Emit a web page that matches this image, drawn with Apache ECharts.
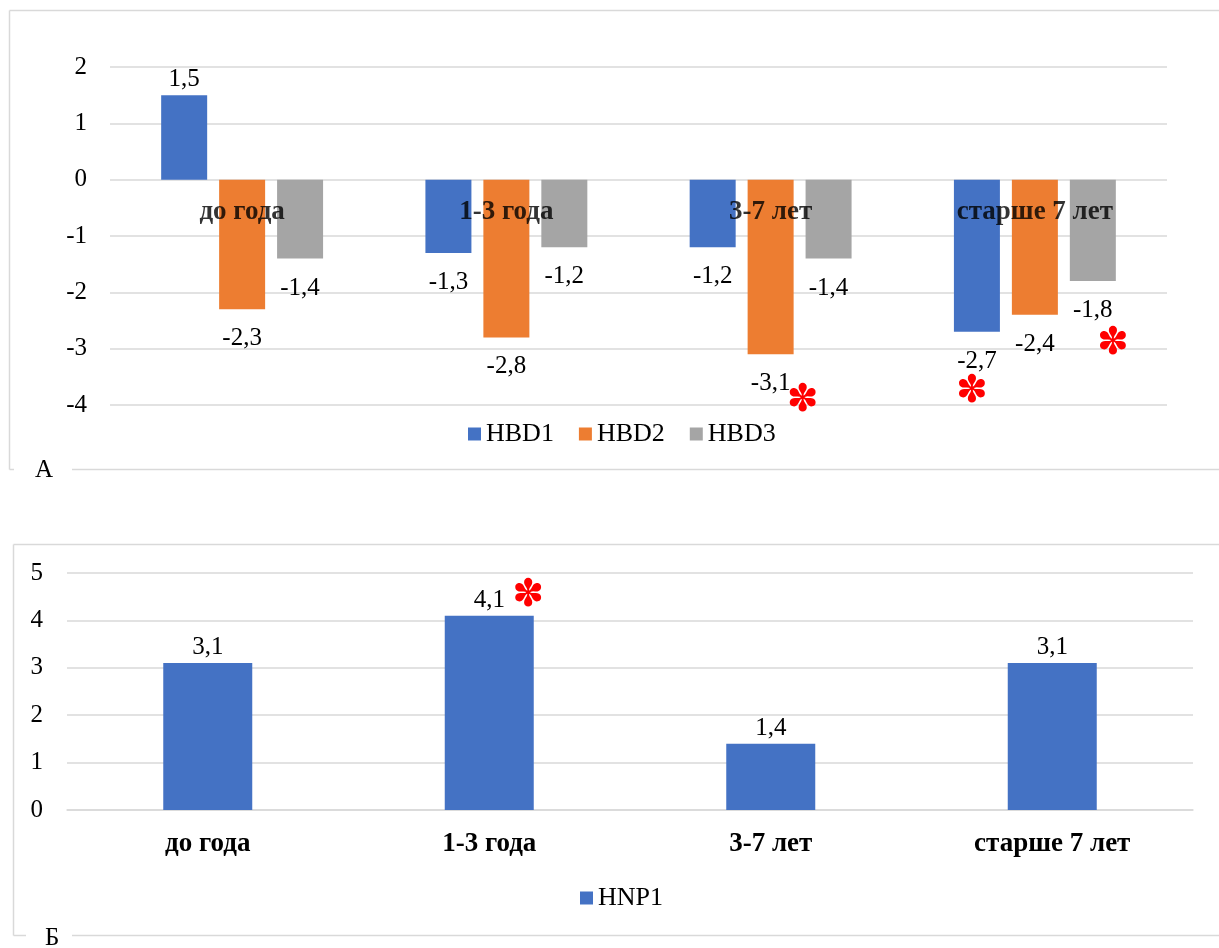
<!DOCTYPE html>
<html>
<head>
<meta charset="utf-8">
<script src="https://cdn.jsdelivr.net/npm/echarts@6/dist/echarts.min.js"></script>
<style>
html,body{margin:0;padding:0;background:#fff;}
#c{width:1219px;height:948px;}
</style>
</head>
<body>
<div id="c"></div>
<script>
var categories = ['до года', '1-3 года', '3-7 лет', 'старше 7 лет'];
var hbd1 = [1.5, -1.3, -1.2, -2.7];
var hbd2 = [-2.3, -2.8, -3.1, -2.4];
var hbd3 = [-1.4, -1.2, -1.4, -1.8];
var hnp1 = [3.1, 4.1, 1.4, 3.1];
var topTicks = [-4, -3, -2, -1, 0, 1, 2];
var bottomTicks = [0, 1, 2, 3, 4, 5];
// significance marks: series name + category
var sigMarks = [
  {series: 'HBD2', cat: '3-7 лет'},
  {series: 'HBD1', cat: 'старше 7 лет'},
  {series: 'HBD3', cat: 'старше 7 лет'},
  {series: 'HNP1', cat: '1-3 года'}
];

var FONT = "'Liberation Serif', 'Times New Roman', serif";
var GRID = '#d9d9d9';
var colors = {HBD1: '#4472C4', HBD2: '#ED7D31', HBD3: '#A5A5A5', HNP1: '#4472C4'};
var sigOffset = {
  'HBD2|3-7 лет': [32, 47],
  'HBD1|старше 7 лет': [-5, 60],
  'HBD3|старше 7 лет': [20, 63],
  'HNP1|1-3 года': [39, -20]
};

function fmt(v) { return String(v).replace('.', ','); }

function makeData(arr) {
  return arr.map(function (v) {
    return {
      value: v,
      label: v < 0 ? {position: 'bottom', distance: 17} : {position: 'top', distance: 3}
    };
  });
}

function markPointsFor(name, arr) {
  var pts = [];
  sigMarks.forEach(function (m) {
    if (m.series !== name) return;
    var i = categories.indexOf(m.cat);
    pts.push({
      coord: [i, arr[i]],
      label: {offset: sigOffset[name + '|' + m.cat]}
    });
  });
  if (!pts.length) return undefined;
  return {
    symbol: 'circle',
    symbolSize: 0,
    silent: true,
    label: {
      show: true,
      formatter: '\u273D',
      color: '#FF0000',
      fontSize: 38,
      fontFamily: 'DejaVu Sans',
      position: 'inside'
    },
    data: pts
  };
}

function barSeries(name, arr, idx, width) {
  return {
    name: name,
    type: 'bar',
    xAxisIndex: idx,
    yAxisIndex: idx,
    barWidth: width,
    barGap: '26%',
    itemStyle: {color: colors[name]},
    label: {
      show: true,
      color: '#000',
      fontSize: 25,
      fontFamily: FONT,
      formatter: function (p) { return fmt(p.value); }
    },
    data: makeData(arr),
    markPoint: markPointsFor(name, arr),
    animation: false
  };
}

var chart = echarts.init(document.getElementById('c'), null, {renderer: 'canvas'});

function frameLine(x1, y1, x2, y2) {
  return {type: 'line', shape: {x1: x1, y1: y1, x2: x2, y2: y2},
    style: {stroke: GRID, lineWidth: 1.5}, silent: true};
}

var catLabel = {fontFamily: FONT, fontSize: 27, fontWeight: 'bold', color: '#000'};

var option = {
  animation: false,
  backgroundColor: '#fff',
  textStyle: {fontFamily: FONT},
  grid: [
    {left: 110, right: 52, top: 67, bottom: 543, containLabel: false},
    {left: 67, right: 26, top: 573, bottom: 138, containLabel: false}
  ],
  legend: [
    {
      data: ['HBD1', 'HBD2', 'HBD3'],
      left: 463, top: 416,
      itemWidth: 13, itemHeight: 13, itemGap: 25,
      icon: 'rect',
      textStyle: {fontFamily: FONT, fontSize: 26, color: '#000'}
    },
    {
      data: ['HNP1'],
      left: 575, top: 880,
      itemWidth: 13, itemHeight: 13,
      icon: 'rect',
      textStyle: {fontFamily: FONT, fontSize: 26, color: '#000'}
    }
  ],
  xAxis: [
    {
      type: 'category', gridIndex: 0, data: categories,
      axisLine: {show: false},
      axisTick: {show: false},
      axisLabel: {show: false}
    },
    {
      type: 'category', gridIndex: 1, data: categories,
      axisLine: {show: true, lineStyle: {color: GRID, width: 1.5}},
      axisTick: {show: false},
      axisLabel: Object.assign({margin: 21}, catLabel)
    }
  ],
  yAxis: [
    {
      type: 'value', gridIndex: 0,
      min: topTicks[0], max: topTicks[topTicks.length - 1], interval: 1,
      axisLine: {show: false}, axisTick: {show: false},
      splitLine: {lineStyle: {color: GRID, width: 1.5}},
      axisLabel: {fontFamily: FONT, fontSize: 25, color: '#000', margin: 23,
        formatter: function (v) { return fmt(v); }}
    },
    {
      type: 'value', gridIndex: 1,
      min: bottomTicks[0], max: bottomTicks[bottomTicks.length - 1], interval: 1,
      axisLine: {show: false}, axisTick: {show: false},
      splitLine: {lineStyle: {color: GRID, width: 1.5}},
      axisLabel: {fontFamily: FONT, fontSize: 25, color: '#000', margin: 24,
        formatter: function (v) { return fmt(v); }}
    }
  ],
  series: [
    barSeries('HBD1', hbd1, 0, 46),
    barSeries('HBD2', hbd2, 0, 46),
    barSeries('HBD3', hbd3, 0, 46),
    barSeries('HNP1', hnp1, 1, 89),
    {
      // category labels drawn at the zero line of the top chart
      name: 'cats', type: 'scatter', xAxisIndex: 0, yAxisIndex: 0,
      symbolSize: 0, z: 10, silent: true,
      data: categories.map(function (c) { return [c, 0]; }),
      label: Object.assign({show: true, position: 'bottom', distance: 19,
        formatter: function (p) { return p.value[0]; }}, catLabel)
    }
  ],
  graphic: [
    // frame A
    frameLine(9.5, 10.5, 1219, 10.5),
    frameLine(9.5, 10.5, 9.5, 469.5),
    frameLine(9.5, 469.5, 14, 469.5),
    frameLine(72, 469.5, 1219, 469.5),
    {type: 'text', left: 35, top: 458, silent: true,
      style: {text: 'А', fontFamily: FONT, fontSize: 25, fill: '#000'}},
    // frame Б
    frameLine(13.5, 544.5, 1219, 544.5),
    frameLine(13.5, 544.5, 13.5, 935.5),
    frameLine(13.5, 935.5, 26, 935.5),
    frameLine(72, 935.5, 1219, 935.5),
    {type: 'text', left: 45, top: 926, silent: true,
      style: {text: 'Б', fontFamily: FONT, fontSize: 25, fill: '#000'}}
  ]
};
chart.setOption(option);
</script>
</body>
</html>
